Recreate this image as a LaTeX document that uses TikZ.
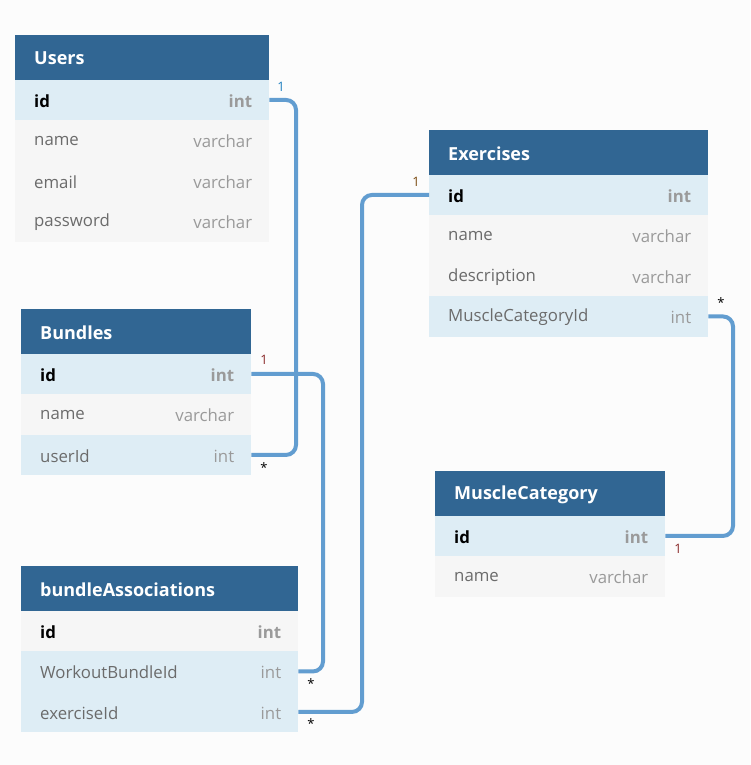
\documentclass[tikz,border=0pt]{standalone}
\usepackage{fontspec}
\setmainfont{Open Sans}
\definecolor{hdrblue}{HTML}{316693}
\definecolor{hl}{HTML}{DEEDF5}
\definecolor{plain}{HTML}{F6F6F6}
\definecolor{bg}{HTML}{FCFCFC}
\definecolor{conn}{HTML}{629DD0}
\definecolor{fgrey}{HTML}{6B6B6B}
\definecolor{tgrey}{HTML}{9A9A9A}
\definecolor{onered}{HTML}{8A2A2A}
\definecolor{oneblue}{HTML}{2080C0}
\definecolor{onebrown}{HTML}{7A4A10}
\tikzset{
  x=1pt,y=-1pt,
  rowbox/.style={draw=none,anchor=north west,inner sep=0pt,minimum height=#1},
  hdrbox/.style={fill=hdrblue,draw=none,anchor=north west,inner sep=0pt,minimum height=44.5},
  hdrtext/.style={anchor=west,text=white,font=\fontsize{18}{21}\selectfont\bfseries,inner sep=0pt},
  fname/.style={anchor=west,text=fgrey,font=\fontsize{16.8}{19}\selectfont,inner sep=0pt},
  ftype/.style={anchor=east,text=tgrey,font=\fontsize{16.8}{19}\selectfont,inner sep=0pt},
  kname/.style={anchor=west,text=black,font=\fontsize{16.8}{19}\selectfont\bfseries,inner sep=0pt},
  ktype/.style={anchor=east,text=tgrey,font=\fontsize{16.8}{19}\selectfont\bfseries,inner sep=0pt},
  link/.style={draw=conn,line width=4pt,rounded corners=10pt},
  card/.style={font=\fontsize{13}{15}\selectfont,inner sep=0pt},
}
% \erow{node}{x}{y}{w}{h}{fill}{namestyle}{field}{type}
\newcommand\erow[9]{%
  \node[rowbox=#5,fill=#6,minimum width=#4] (#1) at (#2,#3) {};
  \node[#7] at ([xshift=19pt,yshift=-1pt]#1.west) {#8};
  \node[#7 t] at ([xshift=-17pt,yshift=-1pt]#1.east) {#9};
}
\tikzset{kname t/.style={ktype},fname t/.style={ftype}}
\newcommand\ehdr[5]{%
  \node[hdrbox,minimum width=#4] (#1) at (#2,#3) {};
  \node[hdrtext] at ([xshift=19pt,yshift=-1pt]#1.west) {#5};
}
\begin{document}
\begin{tikzpicture}
\fill[bg] (0,0) rectangle (750,765);
\useasboundingbox (0,0) rectangle (750,765);

% Users
\ehdr{users}{15}{35}{254}{Users}
\erow{u-id}{15}{79.5}{254}{40.5}{hl}{kname}{id}{int}
\erow{u-name}{15}{120}{254}{40.5}{plain}{fname}{name}{varchar}
\erow{u-email}{15}{160.5}{254}{40.5}{plain}{fname}{email}{varchar}
\erow{u-pw}{15}{201}{254}{40.5}{plain}{fname}{password}{varchar}

% Exercises
\ehdr{ex}{429}{130}{279}{Exercises}
\erow{e-id}{429}{174.5}{279}{40.5}{hl}{kname}{id}{int}
\erow{e-name}{429}{215}{279}{40.5}{plain}{fname}{name}{varchar}
\erow{e-desc}{429}{255.5}{279}{40.5}{plain}{fname}{description}{varchar}
\erow{e-mc}{429}{296}{279}{40.5}{hl}{fname}{MuscleCategoryId}{int}

% Bundles
\ehdr{bun}{21}{309}{230}{Bundles}
\erow{b-id}{21}{353.5}{230}{40.5}{hl}{kname}{id}{int}
\erow{b-name}{21}{394}{230}{40.5}{plain}{fname}{name}{varchar}
\erow{b-uid}{21}{434.5}{230}{40.5}{hl}{fname}{userId}{int}

% MuscleCategory
\ehdr{mc}{435}{471}{230}{MuscleCategory}
\erow{m-id}{435}{515.5}{230}{40.5}{hl}{kname}{id}{int}
\erow{m-name}{435}{556}{230}{40.5}{plain}{fname}{name}{varchar}

% bundleAssociations
\ehdr{ba}{21}{566}{277}{bundleAssociations}
\erow{a-id}{21}{610.5}{277}{40.5}{plain}{kname}{id}{int}
\erow{a-wb}{21}{651}{277}{40.5}{hl}{fname}{WorkoutBundleId}{int}
\erow{a-ex}{21}{691.5}{277}{40.5}{hl}{fname}{exerciseId}{int}

% connectors
\coordinate (c1) at (296,0);
\coordinate (c2) at (323,0);
\coordinate (c3) at (362,0);
\coordinate (c4) at (733,0);
\draw[link] (u-id.east) -- (u-id.east -| c1) -- (b-uid.east -| c1) -- (b-uid.east);
\draw[link] (b-id.east) -- (b-id.east -| c2) -- (a-wb.east -| c2) -- (a-wb.east);
\draw[link] (e-id.west) -- (e-id.west -| c3) -- (a-ex.east -| c3) -- (a-ex.east);
\draw[link] (e-mc.east) -- (e-mc.east -| c4) -- (m-id.east -| c4) -- (m-id.east);

% cardinalities
\node[card,text=oneblue] (k1) at (281,87) {1};
\node[card] (k2) at (264,468) {*};
\node[card,text=onered] (k3) at (264,360) {1};
\node[card] (k4) at (311,684) {*};
\node[card,text=onebrown] (k5) at (416,182) {1};
\node[card] (k6) at (311,724) {*};
\node[card] (k7) at (721,303) {*};
\node[card,text=onered] (k8) at (678,549) {1};
\end{tikzpicture}
\end{document}
